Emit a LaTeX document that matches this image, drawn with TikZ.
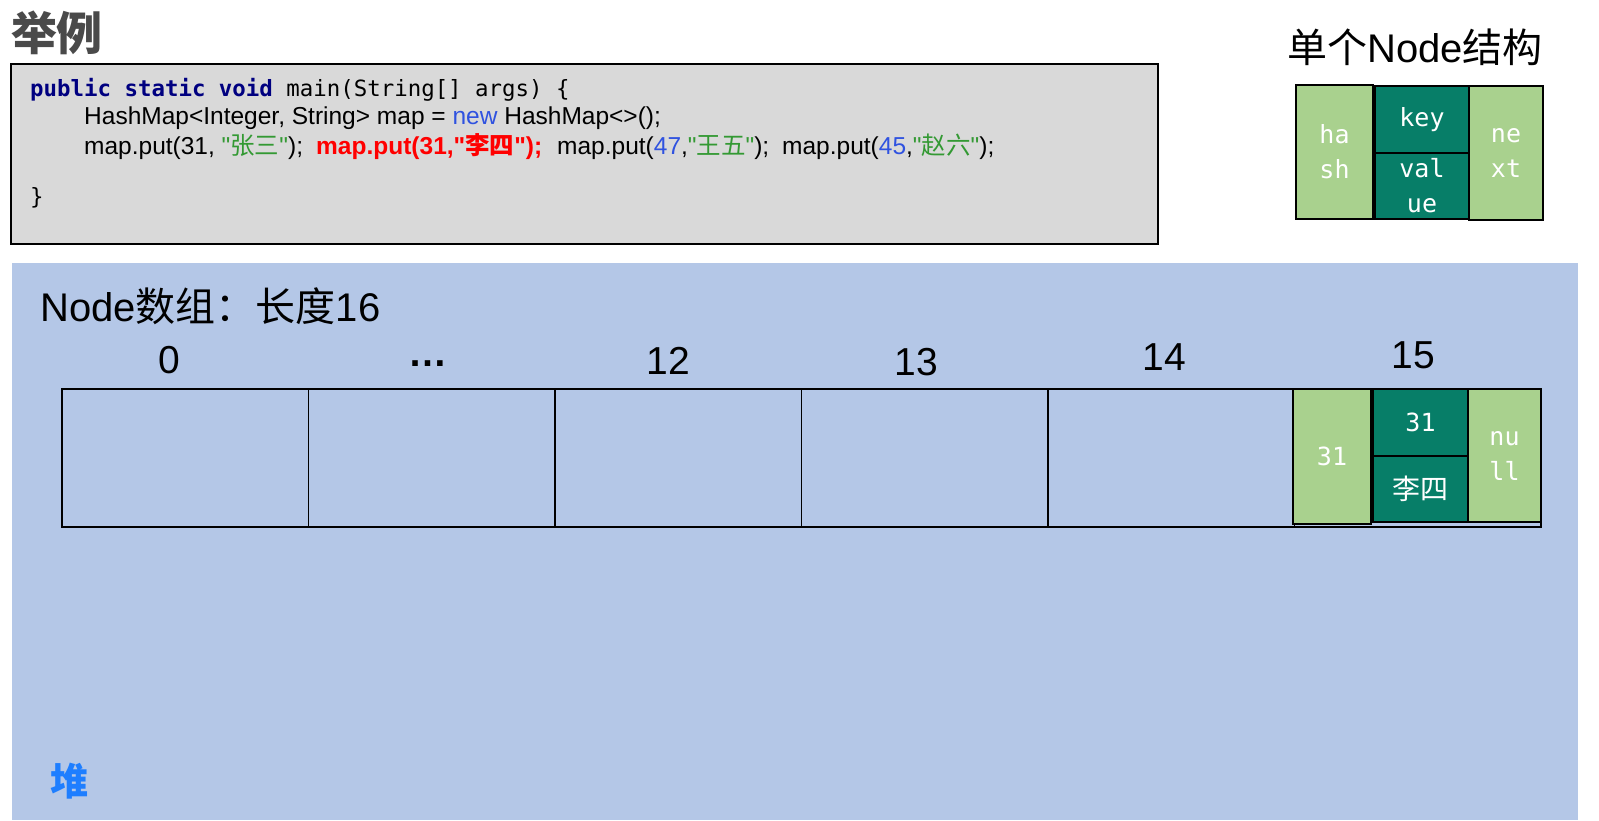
\documentclass[tikz,border=0pt]{standalone}
\usepackage{fontspec}
\setmainfont{Liberation Sans}[Ligatures=TeXOff]
\setmonofont{DejaVu Sans Mono}
\newfontfamily\cjk{Noto Sans CJK SC}
\definecolor{bgblue}{HTML}{B4C7E7}
\definecolor{codegray}{HTML}{D9D9D9}
\definecolor{lgreen}{HTML}{A9D18E}
\definecolor{teal}{HTML}{077E68}
\definecolor{kwnavy}{HTML}{000080}
\definecolor{strgreen}{HTML}{339933}
\definecolor{numblue}{HTML}{2F52E0}
\definecolor{heapblue}{HTML}{1E7EFF}
\definecolor{titlegray}{HTML}{4A4A4A}
\begin{document}
\begin{tikzpicture}[x=1pt,y=-1pt,
  box/.style={draw=black, line width=2pt, inner sep=0pt, outer sep=0pt, anchor=north west},
  cell/.style={box, line width=1.8pt, minimum width=246.5pt, minimum height=138pt},
  gcell/.style={box, line width=2.6pt, fill=lgreen, text=white, align=center,
     font=\fontsize{25}{35}\selectfont\ttfamily},
  tcell/.style={box, line width=2.6pt, fill=teal, text=white, align=center,
     font=\fontsize{25}{35}\selectfont\ttfamily},
  code/.style={anchor=base west, inner sep=0pt, font=\fontsize{24.5}{28}\selectfont},
  mono/.style={anchor=base west, inner sep=0pt, font=\fontsize{22.4}{26}\selectfont\ttfamily},
  idx/.style={inner sep=0pt, font=\fontsize{39}{44}\selectfont}
]
\useasboundingbox (0,0) rectangle (1599,820);

% title
\node[inner sep=0pt, text=titlegray, font=\fontsize{46}{50}\selectfont\cjk\bfseries] (title) at (57,33) {举例};

% code box
\node[box, fill=codegray, minimum width=1147pt, minimum height=180pt] (codebox) at (11,64) {};
\node[mono] (l1a) at (30,96) {\textcolor{kwnavy}{\bfseries public static void} main(String[] args) \{};
\node[code] (l2) at (84,124.5) {HashMap<Integer, String> map = \textcolor{numblue}{new} HashMap<>();};
\node[code] (l3a) at (84,154) {map.put(31, \textcolor{strgreen}{"{\cjk 张三}"});};
\node[code, text=red, font=\fontsize{24.5}{28}\selectfont\bfseries] (l3b) at (316,154) {map.put(31,"{\cjk 李四}");};
\node[code] (l3c) at (557,154) {map.put(\textcolor{numblue}{47},\textcolor{strgreen}{"{\cjk 王五}"});};
\node[code] (l3d) at (782,154) {map.put(\textcolor{numblue}{45},\textcolor{strgreen}{"{\cjk 赵六}"});};
\node[mono] (l4) at (30,204) {\}};

% single node structure
\node[inner sep=0pt, font=\fontsize{40}{44}\selectfont] (stitle) at (1415,47) {{\cjk 单个}Node{\cjk 结构}};
\node[gcell, minimum width=77pt, minimum height=134pt] (hashS) at (1296,85) {ha\\sh};
\node[tcell, minimum width=94pt, minimum height=67pt] (keyS) at (1375,86) {key};
\node[tcell, minimum width=94pt, minimum height=66pt] (valS) at (1375,153) {val\\ue};
\node[gcell, minimum width=74pt, minimum height=134pt] (nextS) at (1469,86) {ne\\xt};

% heap area
\fill[bgblue] (12,263) rectangle (1578,820);
\node[anchor=base west, inner sep=0pt, font=\fontsize{40}{46}\selectfont] (arrtitle) at (40,321) {Node{\cjk 数组：长度}16};

\node[idx] (i0) at (169,360) {0};
\node[idx, font=\fontsize{39}{44}\selectfont\bfseries] (i1) at (428,364) {…};
\node[idx] (i12) at (668,361) {12};
\node[idx] (i13) at (916,362) {13};
\node[idx] (i14) at (1164,357) {14};
\node[idx] (i15) at (1413,355) {15};

\foreach \i in {0,...,5} {
  \node[cell] (c\i) at (62+246.5*\i,389) {};
}

\node[gcell, minimum width=78pt, minimum height=135pt] (hash15) at (1293,389) {31};
\node[tcell, minimum width=95pt, minimum height=67pt] (key15) at (1373,389) {31};
\node[tcell, minimum width=95pt, minimum height=66pt, font=\fontsize{28}{30}\selectfont\cjk] (val15) at (1373,456) {李四};
\node[gcell, minimum width=73pt, minimum height=133pt] (next15) at (1468,389) {nu\\ll};

\node[inner sep=0pt, text=heapblue, font=\fontsize{38}{42}\selectfont\cjk\bfseries] (heap) at (69,781) {堆};
\end{tikzpicture}
\end{document}
